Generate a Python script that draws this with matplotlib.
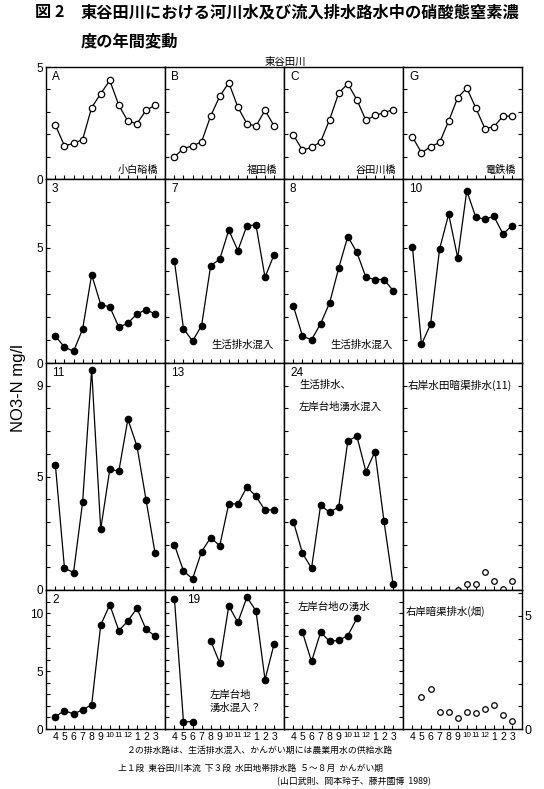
import numpy as np
import matplotlib
matplotlib.use('Agg')
import matplotlib.pyplot as plt
from matplotlib import font_manager

W, H = 544, 789
plt.rcParams['font.family'] = ['Noto Sans CJK JP', 'DejaVu Sans']

names = set(font_manager.get_font_names())
num_font = 'Liberation Sans' if 'Liberation Sans' in names else 'DejaVu Sans'

nan = np.nan
months = ['4', '5', '6', '7', '8', '9', '10', '11', '12', '1', '2', '3']

# 東谷田川本流 (row 1)
st_A = [2.4, 1.48, 1.59, 1.76, 3.19, 3.81, 4.4, 3.29, 2.58, 2.47, 3.07, 3.29]
st_B = [0.99, 1.36, 1.48, 1.66, 2.81, 3.69, 4.3, 3.21, 2.47, 2.36, 3.07, 2.37]
st_C = [1.96, 1.29, 1.41, 1.66, 2.65, 3.84, 4.25, 3.54, 2.62, 2.84, 2.96, 3.1]
st_G = [1.88, 1.17, 1.44, 1.63, 2.59, 3.63, 4.06, 3.17, 2.25, 2.33, 2.81, 2.8]

# 排水路 (rows 2-4)
dr_3 = [1.17, 0.69, 0.51, 1.47, 3.84, 2.54, 2.44, 1.56, 1.73, 2.14, 2.31, 2.14]
dr_7 = [4.42, 1.5, 0.95, 1.63, 4.23, 4.51, 5.78, 4.89, 5.97, 6.0, 3.73, 4.71]
dr_8 = [2.47, 1.17, 1.01, 1.71, 2.62, 4.13, 5.5, 4.81, 3.73, 3.63, 3.63, 3.15]
dr_10 = [5.06, 0.81, 1.68, 4.96, 6.47, 4.57, 7.49, 6.33, 6.26, 6.37, 5.61, 5.97]
dr_11 = [5.49, 0.96, 0.77, 3.86, 9.7, 2.68, 5.31, 5.24, 7.52, 6.34, 3.98, 1.62]
dr_13 = [1.99, 0.84, 0.49, 1.69, 2.31, 1.95, 3.8, 3.79, 4.54, 4.13, 3.51, 3.54]
dr_24 = [3.01, 1.62, 0.96, 3.73, 3.42, 3.66, 6.56, 6.78, 5.22, 6.09, 3.02, 0.25]
paddy_11 = [nan, nan, nan, nan, nan, 0.02, 0.28, 0.28, 0.8, 0.4, 0.06, 0.4]
dr_2 = [1.07, 1.59, 1.3, 1.65, 2.09, 8.98, 10.72, 8.49, 9.33, 10.43, 8.6, 8.03]
dr_19 = [11.24, 0.63, 0.63, nan, 7.62, 5.7, 10.63, 9.2, 11.38, 10.2, 4.26, 7.33]
spring = [nan, 8.35, 5.83, 8.35, 7.57, 7.65, 8.06, 9.54, nan, nan, nan, nan]
upland = [nan, 1.41, 1.79, 0.74, 0.74, 0.49, 0.77, 0.71, 0.9, 1.04, 0.62, 0.37]

# (row, col, data, style, label)
panels = [
    (0, 0, st_A, 'ring', 'A'), (0, 1, st_B, 'ring', 'B'),
    (0, 2, st_C, 'ring', 'C'), (0, 3, st_G, 'ring', 'G'),
    (1, 0, dr_3, 'dot', '3'), (1, 1, dr_7, 'dot', '7'),
    (1, 2, dr_8, 'dot', '8'), (1, 3, dr_10, 'dot', '10'),
    (2, 0, dr_11, 'dot', '11'), (2, 1, dr_13, 'dot', '13'),
    (2, 2, dr_24, 'dot', '24'), (2, 3, paddy_11, 'open', ''),
    (3, 0, dr_2, 'dot', '2'), (3, 1, dr_19, 'dot', '19'),
    (3, 2, spring, 'dot', ''), (3, 3, upland, 'open', ''),
]

col_left = [46, 165, 284, 403]
col_w = 118.5
row_top = [67, 179, 363, 590]
row_bot = [179, 363, 590, 729]
row_ymax = [5, 8, 10, 12]
ylab_show = [[0, 5], [0, 5], [0, 5, 9], [0, 5, 10]]

fig = plt.figure(figsize=(W / 100, H / 100), dpi=100)


def ftext(x, y, s, **kw):
    fig.text(x / W, 1 - y / H, s, **kw)


x = np.arange(12)
for r, c, vals, style, lab in panels:
    x0, y0, y1 = col_left[c], row_top[r], row_bot[r]
    ax = fig.add_axes([x0 / W, 1 - y1 / H, col_w / W, (y1 - y0) / H])
    v = np.array(vals, dtype=float)
    if style == 'ring':
        ax.plot(x, v, '-o', color='black', lw=0.9, ms=4.6, mfc='white', mec='black', mew=0.9)
    elif style == 'dot':
        ax.plot(x, v, '-o', color='black', lw=0.9, ms=4.5)
    else:
        ax.plot(x, v, 'o', ls='none', ms=4.0, mfc='white', mec='black', mew=0.9)

    ax.set_xlim(-1.04, 12.04)
    ax.set_xticks(x)
    if r == 3:
        ax.set_xticklabels(months, family=num_font)
        for t, m in zip(ax.get_xticklabels(), months):
            t.set_fontsize(5.8 if len(m) == 2 else 7.5)
    else:
        ax.set_xticklabels([])

    right_axis = (r == 3 and c == 3)
    ymax = 6.15 if right_axis else row_ymax[r]
    ax.set_ylim(0, ymax)
    yt = list(range(0, int(ymax) + 1))
    ax.set_yticks(yt)
    if c == 0:
        ax.set_yticklabels([str(t) if t in ylab_show[r] else '' for t in yt],
                           fontsize=8.5, family=num_font)
    elif right_axis:
        ax.yaxis.tick_right()
        ax.set_yticklabels([str(t) if t in (0, 5) else '' for t in yt],
                           fontsize=9, family=num_font)
    else:
        ax.set_yticklabels([])

    ax.tick_params(axis='both', direction='in', length=3, width=0.8, pad=2)
    ax.tick_params(axis='y', left=not right_axis, right=(c == 3 or (r == 3 and c == 2)))
    for sp in ax.spines.values():
        sp.set_linewidth(1.0)

    if lab:
        dx = 22 if lab == '19' else 6
        ftext(x0 + dx, y0 + 4, lab, fontsize=8.5, family=num_font, va='top', ha='left')

# site / note texts
sites = ['小白硲橋', '福田橋', '谷田川橋', '電鉄橋']
for c, s in enumerate(sites):
    ftext(col_left[c] + col_w - 6, 170, s, fontsize=7.3, ha='right', va='center')
for c in (1, 2):
    ftext(col_left[c] + col_w - 10, 345, '生活排水混入', fontsize=7.5, ha='right', va='center')
ftext(col_left[2] + 15, 385, '生活排水、', fontsize=7.5, va='center')
ftext(col_left[2] + 15, 407, '左岸台地湧水混入', fontsize=7.5, va='center')
ftext(col_left[3] + 5, 385, '右岸水田暗渠排水(11)', fontsize=7.7, va='center')
ftext(col_left[1] + 45, 695, '左岸台地', fontsize=7.5, va='center')
ftext(col_left[1] + 45, 708, '湧水混入？', fontsize=7.5, va='center')
ftext(col_left[2] + 14, 607, '左岸台地の湧水', fontsize=7.5, va='center')
ftext(col_left[3] + 3, 611, '右岸暗渠排水(畑)', fontsize=7.5, va='center')

# title, header, axis label, footer
ftext(35, 12, '図 2', fontsize=11.7, fontweight='bold', va='center')
ftext(81, 12, '東谷田川における河川水及び流入排水路水中の硝酸態窒素濃', fontsize=11.7,
      fontweight='bold', va='center')
ftext(81, 41, '度の年間変動', fontsize=11.7, fontweight='bold', va='center')
ftext(285, 62, '東谷田川', fontsize=7.5, ha='center', va='center')
ftext(19, 388, 'NO3-N mg/l', fontsize=12, family=num_font, rotation=90, ha='center', va='center')

ftext(260, 750, '２の排水路は、生活排水混入、かんがい期には農業用水の供給水路',
      fontsize=6.4, ha='center', va='center')
ftext(251, 768, '上１段  東谷田川本流  下３段  水田地帯排水路  ５～８月  かんがい期',
      fontsize=6.3, ha='center', va='center')
ftext(354, 782, '(山口武則、岡本玲子、藤井國博  1989)', fontsize=6.4, ha='center', va='center')

fig.savefig('out.png', dpi=100)
